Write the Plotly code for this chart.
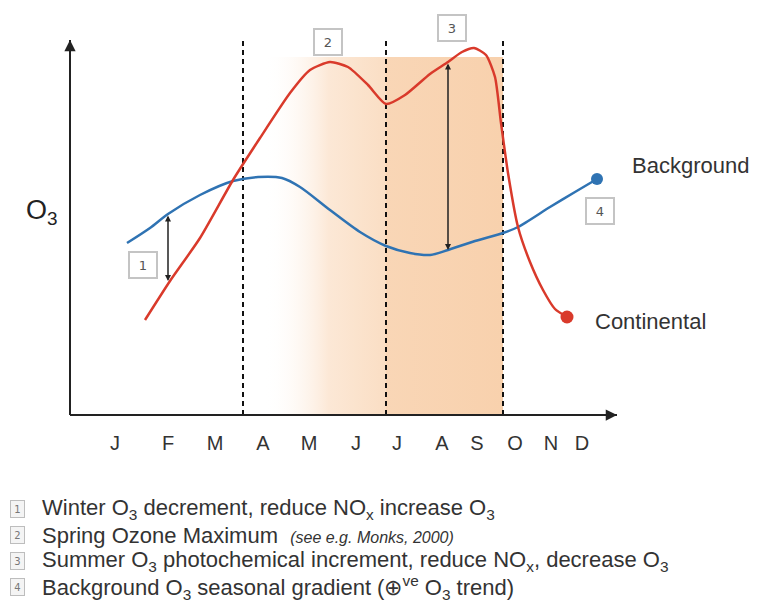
import plotly.graph_objects as go

# ---- data (x: time position, y: O3 index, arbitrary units) ----
months = ["J", "F", "M", "A", "M", "J", "J", "A", "S", "O", "N", "D"]
month_pos = [45, 98, 145, 193, 239, 286, 327, 372, 407, 445, 481, 512]

cont_x = [75, 100, 130, 163, 190, 220, 240, 260, 278, 298, 316, 335, 360, 378, 392, 404, 416, 425, 431, 438, 448, 460, 473, 485, 497]
cont_y = [95, 134, 177, 235, 277, 322, 345, 353, 348, 330, 311, 320, 341, 353, 363, 367, 360, 338, 292, 242, 188, 153, 125, 106, 98]

back_x = [57, 80, 98, 130, 163, 188, 212, 230, 260, 290, 316, 340, 360, 378, 405, 433, 448, 480, 505, 527]
back_y = [172, 187, 201, 220, 234, 238, 237, 228, 205, 183, 169, 162, 160, 165, 174, 182, 188, 208, 223, 236]

season_bounds = [173, 316, 433]      # dashed separators (Apr, Jul, Oct starts)
shade_top = 358
axis_x_end = 547
axis_y_end = 375
dash_top = 378

box_labels = ["1", "2", "3", "4"]
box_x = [73, 258, 382, 530]
box_y = [150, 373, 387, 204]

arrow1 = dict(x=98, y_top=201, y_bot=134)
arrow3 = dict(x=378, y_top=353, y_bot=165)

notes = [
    "Winter O<sub>3</sub> decrement, reduce NO<sub>x</sub> increase O<sub>3</sub>",
    "Spring Ozone Maximum  <i><span style='font-size:16px'>(see e.g. Monks, 2000)</span></i>",
    "Summer O<sub>3</sub> photochemical increment, reduce NO<sub>x</sub>, decrease O<sub>3</sub>",
    "Background O<sub>3</sub> seasonal gradient (⊕<sup>ve</sup> O<sub>3</sub> trend)",
]
notes_y = [-94, -120, -146, -172]

RED = "#d93a2b"
BLUE = "#2f73b3"
FONT = "Liberation Sans, Arial, sans-serif"
TXT = "#333333"

# page body has an 8px margin: shift the axis ranges to compensate
X_RANGE = [-62, 698]
Y_RANGE = [-200, 407]

fig = go.Figure()

# shaded season (horizontal gradient)
fig.add_trace(go.Scatter(
    x=[season_bounds[0], season_bounds[2], season_bounds[2], season_bounds[0], season_bounds[0]],
    y=[0, 0, shade_top, shade_top, 0],
    mode="lines", line=dict(width=0), fill="toself",
    fillgradient=dict(type="horizontal", colorscale=[
        [0.0, "rgba(255,255,255,0)"], [0.08, "rgba(255,255,255,0)"],
        [0.33, "rgba(252,232,214,1)"], [0.549, "rgba(250,222,196,1)"],
        [0.551, "rgba(249,214,182,1)"], [1.0, "rgba(248,209,173,1)"]]),
    hoverinfo="skip", showlegend=False))

# dashed separators
for b in season_bounds:
    fig.add_trace(go.Scatter(x=[b, b], y=[0, dash_top], mode="lines",
                             line=dict(color="#111111", width=2, dash="5px,4px"),
                             hoverinfo="skip", showlegend=False))

# axes lines
fig.add_trace(go.Scatter(x=[0, axis_x_end], y=[0, 0], mode="lines",
                         line=dict(color="#222222", width=2), showlegend=False, hoverinfo="skip"))
fig.add_trace(go.Scatter(x=[0, 0], y=[0, axis_y_end], mode="lines",
                         line=dict(color="#222222", width=2), showlegend=False, hoverinfo="skip"))

# curves
fig.add_trace(go.Scatter(x=back_x, y=back_y, mode="lines", line=dict(color=BLUE, width=2.5, shape="spline", smoothing=0.8),
                         showlegend=False, hoverinfo="skip"))
fig.add_trace(go.Scatter(x=cont_x, y=cont_y, mode="lines", line=dict(color=RED, width=2.5, shape="spline", smoothing=0.6),
                         showlegend=False, hoverinfo="skip"))
fig.add_trace(go.Scatter(x=[back_x[-1]], y=[back_y[-1]], mode="markers", marker=dict(color=BLUE, size=12),
                         showlegend=False, hoverinfo="skip"))
fig.add_trace(go.Scatter(x=[cont_x[-1]], y=[cont_y[-1]], mode="markers", marker=dict(color=RED, size=13),
                         showlegend=False, hoverinfo="skip"))

ann = []
# axis arrowheads
ann.append(dict(x=axis_x_end, y=0, ax=-14, ay=0, xref="x", yref="y", text="", showarrow=True,
                arrowhead=2, arrowsize=1.5, arrowwidth=1.5, arrowcolor="#222222", standoff=0))
ann.append(dict(x=0, y=axis_y_end, ax=0, ay=14, xref="x", yref="y", text="", showarrow=True,
                arrowhead=2, arrowsize=1.5, arrowwidth=1.5, arrowcolor="#222222", standoff=0))
# double arrows
for a in (arrow1, arrow3):
    ann.append(dict(x=a["x"], y=a["y_bot"], ax=a["x"], ay=a["y_top"], xref="x", yref="y",
                    axref="x", ayref="y", text="", showarrow=True, arrowside="end+start",
                    arrowhead=2, arrowsize=0.8, arrowwidth=1.5, arrowcolor="#222222"))
# numbered boxes
for t, bx, by in zip(box_labels, box_x, box_y):
    ann.append(dict(x=bx, y=by, xref="x", yref="y", text=t, showarrow=False,
                    font=dict(family="DejaVu Sans, sans-serif", size=13, color="#555555"),
                    bgcolor="white", bordercolor="#c4c4c4", borderwidth=2, borderpad=2,
                    width=22, height=20))
# series labels
ann.append(dict(x=560, y=250, xref="x", yref="y", text="Background", showarrow=False, xanchor="left",
                font=dict(family=FONT, size=22, color=TXT)))
ann.append(dict(x=523, y=94, xref="x", yref="y", text="Continental", showarrow=False, xanchor="left",
                font=dict(family=FONT, size=22, color=TXT)))
# y label
ann.append(dict(x=-28, y=203, xref="x", yref="y", text="O<sub>3</sub>", showarrow=False,
                font=dict(family=FONT, size=27, color="#222222")))
# notes below
for i, (t, ny) in enumerate(zip(notes, notes_y)):
    ann.append(dict(x=-30, y=ny, xref="x", yref="y", text=t, showarrow=False, xanchor="left",
                    font=dict(family=FONT, size=22, color=TXT)))
    ann.append(dict(x=-53, y=ny, xref="x", yref="y", text=str(i + 1), showarrow=False,
                    font=dict(family="DejaVu Sans, sans-serif", size=10, color="#777777"),
                    bgcolor="#f4f4f4", bordercolor="#bdbdbd", borderwidth=1, borderpad=1,
                    width=11, height=14))

fig.update_layout(
    width=760, height=607, margin=dict(l=0, r=0, t=0, b=0),
    paper_bgcolor="white", plot_bgcolor="white",
    xaxis=dict(range=X_RANGE, anchor="free", position=(0 - Y_RANGE[0]) / (Y_RANGE[1] - Y_RANGE[0]),
               showline=False, showgrid=False,
               zeroline=False, tickvals=month_pos, ticktext=months, ticks="", ticklabelstandoff=14,
               tickfont=dict(family=FONT, size=20, color=TXT), fixedrange=True),
    yaxis=dict(range=Y_RANGE, visible=False, fixedrange=True),
    annotations=ann,
)

fig.write_html("out.html")
